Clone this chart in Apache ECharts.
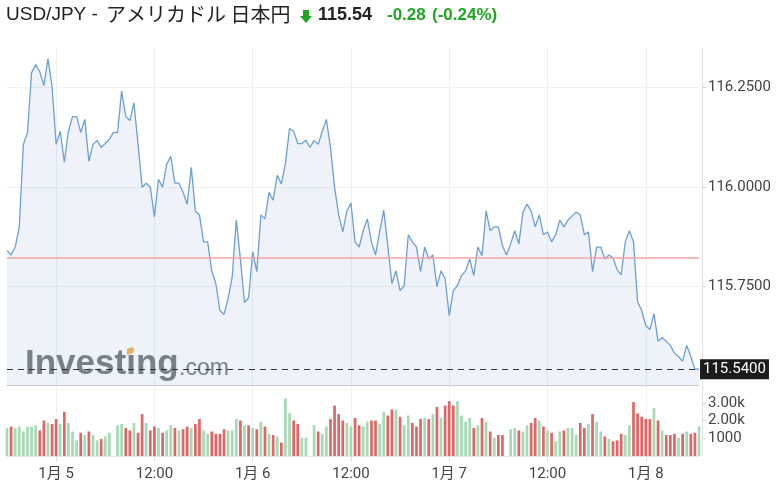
<!DOCTYPE html>
<html><head><meta charset="utf-8">
<script src="https://cdn.jsdelivr.net/npm/echarts@6/dist/echarts.min.js"></script>
<style>html,body{margin:0;padding:0;background:#fff}#c{width:777px;height:488px}</style>
</head><body><div id="c"></div>
<script>
// ---- data ----
const prices = [
 115.839,115.828,115.848,115.899,116.107,116.137,116.288,116.308,116.290,116.255,
 116.323,116.253,116.107,116.140,116.062,116.140,116.177,116.177,116.137,116.170,
 116.064,116.107,116.117,116.099,116.109,116.120,116.137,116.137,116.242,116.177,
 116.167,116.212,116.107,115.999,116.009,115.999,115.924,116.019,115.999,116.057,
 116.077,116.009,116.009,115.986,115.956,116.049,115.939,115.929,115.861,115.861,
 115.788,115.756,115.688,115.678,115.718,115.773,115.916,115.818,115.708,115.720,
 115.836,115.786,115.929,115.919,115.986,115.966,116.029,116.007,116.059,116.147,
 116.140,116.109,116.109,116.117,116.099,116.117,116.107,116.140,116.170,116.099,
 115.999,115.929,115.886,115.939,115.959,115.861,115.848,115.889,115.919,115.861,
 115.828,115.886,115.941,115.851,115.756,115.788,115.738,115.751,115.879,115.861,
 115.848,115.786,115.848,115.818,115.828,115.748,115.788,115.768,115.675,115.738,
 115.751,115.776,115.788,115.818,115.776,115.848,115.826,115.939,115.889,115.899,
 115.899,115.851,115.828,115.856,115.889,115.856,115.936,115.956,115.939,115.899,
 115.929,115.879,115.886,115.861,115.879,115.916,115.899,115.916,115.926,115.936,
 115.929,115.879,115.886,115.786,115.848,115.848,115.818,115.828,115.821,115.791,
 115.778,115.861,115.889,115.861,115.710,115.688,115.650,115.640,115.680,115.610,
 115.620,115.610,115.600,115.580,115.572,115.560,115.600,115.572,115.540,115.540
];
const volumes = [
 1580,1660,1580,1660,1380,1660,1660,1730,1440,2000,
 1860,1800,2080,1800,2490,1860,1380,880,1310,1180,
 1380,1180,880,960,1100,1310,0,1730,1800,1580,
 1440,1860,1310,2360,1860,1440,1660,1580,1310,1440,
 1730,1580,1440,1510,1660,1580,1800,2080,1440,1250,
 1380,1250,1250,1510,1440,1440,2080,2000,1730,1730,
 1580,1510,1930,1660,1250,1180,1100,760,3240,2410,
 2000,1800,1030,1030,0,1730,1380,1250,1660,2080,
 2840,2360,2000,1860,1660,2140,1730,1660,1930,2000,
 2000,1800,2490,2280,2620,2620,2210,1730,2280,1860,
 1660,2080,2140,2080,2360,2760,2140,2840,3090,2840,
 3090,2280,1930,2140,1580,1730,2140,1930,1380,1030,
 1180,1180,0,1510,1580,1440,1380,1730,1860,2140,
 2000,1660,1440,1310,830,1380,1440,1580,1580,1180,
 1860,1580,1800,2360,1930,1380,1100,960,830,880,
 1250,1180,1730,3040,2410,2210,2080,2080,2690,2000,
 1440,1180,1180,1250,1030,1250,1380,1250,1310,1660
];
// 1 = up (green), 0 = down (red)
const volumeUp = [
 1,0,1,1,1,1,1,1,0,0,
 1,0,0,1,0,1,1,1,0,1,
 0,1,1,0,1,1,1,1,1,0,
 0,1,0,0,1,0,0,1,0,1,
 1,0,1,0,0,1,0,0,1,1,
 0,0,0,0,1,1,1,0,1,0,
 1,0,1,0,1,0,1,0,1,1,
 0,0,1,1,1,1,0,1,1,0,
 0,0,0,1,1,0,0,1,1,0,
 0,1,1,0,0,1,0,1,1,0,
 0,0,1,0,1,0,1,0,0,0,
 1,1,1,1,0,1,0,1,0,1,
 0,0,1,1,1,0,1,1,0,0,
 1,0,1,0,1,1,0,1,1,1,
 0,0,1,0,1,1,0,1,0,0,
 0,1,1,0,0,0,0,0,1,0,
 1,0,0,0,1,0,1,0,0,1
];
const tickIndex = [12, 36, 60, 84, 108, 132, 156];
const tickLabels = ['1月 5', '12:00', '1月 6', '12:00', '1月 7', '12:00', '1月 8'];
const lastPrice = 115.54;
const prevClose = 115.82;
const volumeTickValues = [1000, 2000, 3000];
const volumeTickLabels = ['1000', '2.00k', '3.00k'];

// ---- chart ----
const cats = prices.map((_, i) => String(i));
const isTick = (i) => tickIndex.indexOf(i) >= 0;
const axisFont = 'Roboto, "Noto Sans CJK JP", sans-serif';

const chart = echarts.init(document.getElementById('c'), null, {renderer: 'canvas'});
chart.setOption({
  animation: false,
  backgroundColor: '#fff',
  grid: [
    {left: 7, top: 48, width: 692, height: 337},
    {left: 7, top: 385, width: 692, height: 71}
  ],
  xAxis: [
    {
      type: 'category', gridIndex: 0, data: cats, boundaryGap: false,
      axisLine: {show: true, lineStyle: {color: '#c8c8c8', width: 1}},
      axisTick: {show: false}, axisLabel: {show: false},
      splitLine: {show: true, interval: (i) => isTick(i), lineStyle: {color: '#eceef2', width: 1}}
    },
    {
      type: 'category', gridIndex: 1, data: cats, boundaryGap: false,
      axisLine: {show: true, lineStyle: {color: '#e4e6ea', width: 1}},
      axisTick: {show: true, interval: (i) => isTick(i), length: 5, lineStyle: {color: '#d6d8dc'}},
      axisLabel: {
        show: true, interval: (i) => isTick(i), margin: 11,
        formatter: (v, i) => { const k = tickIndex.indexOf(i); return k >= 0 ? tickLabels[k] : ''; },
        fontFamily: axisFont, fontSize: 15, color: '#444'
      },
      splitLine: {show: true, interval: (i) => isTick(i), lineStyle: {color: '#f0f1f4', width: 1}}
    }
  ],
  yAxis: [
    {
      type: 'value', gridIndex: 0, position: 'right', offset: 3,
      min: 115.5, max: 116.35, interval: 0.25,
      axisLine: {show: true, lineStyle: {color: '#dfe2e8'}},
      axisTick: {show: true, length: 4, lineStyle: {color: '#cfd2d8'}},
      axisLabel: {
        show: true, margin: 6, showMinLabel: false, showMaxLabel: false,
        formatter: (v) => v.toFixed(4), fontFamily: axisFont, fontSize: 15, color: '#444'
      },
      splitLine: {show: true, showMinLine: false, showMaxLine: false, lineStyle: {color: '#eff1f4', width: 1}}
    },
    {
      type: 'value', gridIndex: 1, position: 'right', offset: 3,
      min: 0, max: 4000, interval: 1000,
      axisLine: {show: true, lineStyle: {color: '#dfe2e8'}},
      axisTick: {show: true, length: 4, lineStyle: {color: '#cfd2d8'}},
      axisLabel: {
        show: true, margin: 6, showMinLabel: false, showMaxLabel: false,
        formatter: (v) => { const k = volumeTickValues.indexOf(v); return k >= 0 ? volumeTickLabels[k] : ''; },
        fontFamily: axisFont, fontSize: 15, color: '#444'
      },
      splitLine: {show: false}
    }
  ],
  series: [
    {
      type: 'line', xAxisIndex: 0, yAxisIndex: 0, data: prices,
      symbol: 'none', smooth: false, z: 2,
      lineStyle: {color: '#6c9fd3', width: 1.3},
      areaStyle: {color: 'rgba(120,155,200,0.17)'},
      markLine: {
        silent: true, symbol: ['none', 'none'], animation: false,
        data: [
          {yAxis: prevClose, lineStyle: {color: '#f4a3a3', width: 1.5, type: 'solid'}, label: {show: false}},
          {yAxis: lastPrice, lineStyle: {color: '#333', width: 1.2, type: [6, 5]},
           label: {show: true, position: 'end', distance: 1, formatter: lastPrice.toFixed(4),
                   backgroundColor: '#1b1b1b', color: '#fff', padding: [3, 3, 2, 3],
                   fontFamily: axisFont, fontSize: 15}}
        ]
      }
    },
    {
      type: 'bar', xAxisIndex: 1, yAxisIndex: 1, barWidth: '66%',
      data: volumes.map((v, i) => ({value: v, itemStyle: {color: volumeUp[i] ? '#a6d9b4' : '#e06666'}}))
    }
  ],
  graphic: [
    {type: 'text', left: 6, top: 5, z: 10,
     style: {text: 'USD/JPY -', font: '19px "Liberation Sans", sans-serif', fill: '#222'}},
    {type: 'text', left: 106, top: 4, z: 10,
     style: {text: 'アメリカドル 日本円', font: '20px "Noto Sans CJK JP", sans-serif', fill: '#222'}},
    {type: 'polygon', z: 10, shape: {points: [[303,10],[309,10],[309,16],[312,16],[306,23],[300,16],[303,16]]},
     style: {fill: '#1fa51f'}},
    {type: 'text', left: 318, top: 6, z: 10,
     style: {text: '115.54', font: 'bold 18px "Liberation Sans", sans-serif', fill: '#222'}},
    {type: 'text', left: 387, top: 7, z: 10,
     style: {text: '-0.28', font: 'bold 17px "Liberation Sans", sans-serif', fill: '#1fa51f'}},
    {type: 'text', left: 432, top: 7, z: 10,
     style: {text: '(-0.24%)', font: 'bold 17px "Liberation Sans", sans-serif', fill: '#1fa51f'}},
    {type: 'text', z: 1, x: 25, y: 364,
     style: {text: 'Investing', font: 'bold 35px "Liberation Sans", sans-serif', fill: '#6d6e71', verticalAlign: 'middle', opacity: 0.9}},
    {type: 'text', z: 1, x: 179, y: 369,
     style: {text: '.com', font: '23px "Liberation Sans", sans-serif', fill: '#6d6e71', verticalAlign: 'middle', opacity: 0.9}},
    {type: 'polygon', z: 1, shape: {points: [[127,349],[133,347],[133,353],[127,355]]}, style: {fill: '#f2b64f'}}
  ]
});
</script>
</body></html>
